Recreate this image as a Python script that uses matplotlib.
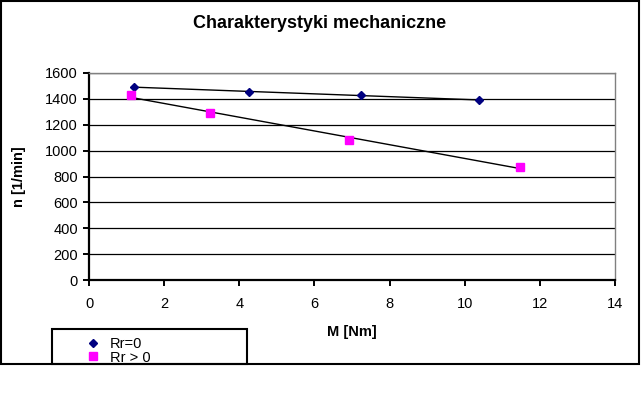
import numpy as np
import matplotlib
matplotlib.use("Agg")
import matplotlib.pyplot as plt
from matplotlib.patches import Rectangle

plt.rcParams['font.family'] = ['Liberation Sans', 'DejaVu Sans']

# dane pomiarowe
M_r0 = [1.2, 4.26, 7.24, 10.39]
n_r0 = [1490, 1456, 1430, 1389]
M_r1 = [1.13, 3.22, 6.93, 11.48]
n_r1 = [1430, 1288, 1080, 876]
labels = ["Rr=0", "Rr > 0"]

W, H = 641, 395
fig = plt.figure(figsize=(W / 100, H / 100), dpi=100)
ax = fig.add_axes([89 / W, 1 - 280 / H, (615 - 89) / W, (280 - 73) / H])

ax.plot(M_r0, n_r0, linestyle='none', marker='D', ms=4.5, color='#000080',
        label=labels[0], zorder=4)
ax.plot(M_r1, n_r1, linestyle='none', marker='s', ms=5.5, color='#FF00FF',
        label=labels[1], zorder=4)

# linie trendu (liniowe)
for xs, ys in [(M_r0, n_r0), (M_r1, n_r1)]:
    a, b = np.polyfit(xs, ys, 1)
    xx = np.array([min(xs), max(xs)])
    ax.plot(xx, a * xx + b, color='black', lw=1, zorder=3)

ax.set_xlim(0, 14)
ax.set_ylim(0, 1600)
ax.set_xticks(np.arange(0, 15, 2))
ax.set_yticks(np.arange(0, 1601, 200))
ax.grid(axis='y', color='black', lw=0.9)
ax.set_axisbelow(True)
for s in ['top', 'right']:
    ax.spines[s].set_color('#808080')
    ax.spines[s].set_linewidth(1)
for s in ['left', 'bottom']:
    ax.spines[s].set_color('black')
    ax.spines[s].set_linewidth(1.6)
ax.tick_params(direction='out', length=4, width=1.4, labelsize=10.5)
ax.tick_params(axis='x', pad=8)
ax.tick_params(axis='y', pad=4)

ax.set_xlabel('M [Nm]', fontsize=10.5, fontweight='bold', labelpad=10)
ax.set_ylabel('n [1/min]', fontsize=10.5, fontweight='bold', labelpad=14)
fig.text(320 / W, 1 - 23 / H, 'Charakterystyki mechaniczne', fontsize=13,
         fontweight='bold', ha='center', va='center')

# legenda
leg = fig.legend(loc='upper left', bbox_to_anchor=(78 / W, 1 - 330 / H),
                 frameon=False, fontsize=10.5, borderpad=0, labelspacing=-0.05,
                 handlelength=1.0, handletextpad=0.7)
fig.add_artist(Rectangle((52 / W, 1 - 364 / H), 195 / W, 35 / H,
                         transform=fig.transFigure, fill=False,
                         edgecolor='black', lw=1.5))

# ramka wykresu
fig.add_artist(Rectangle((0.5 / W, 1 - 364 / H), 638.5 / W, 363.5 / H,
                         transform=fig.transFigure, fill=False,
                         edgecolor='black', lw=1.5))

fig.savefig('out.png', dpi=100)
